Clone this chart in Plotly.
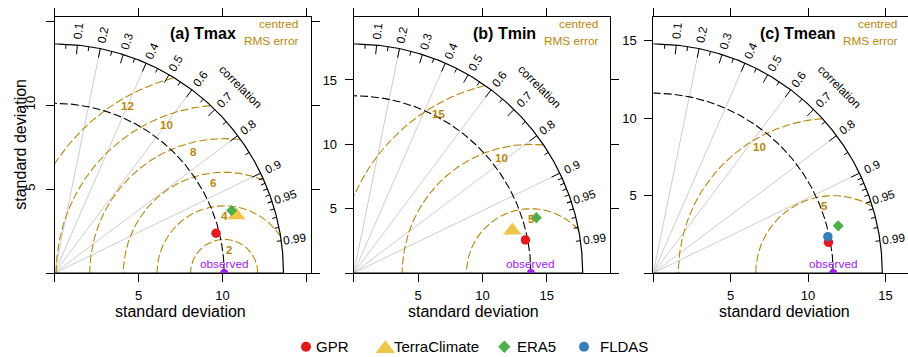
import numpy as np
import plotly.graph_objects as go

# ---------------- data ----------------
panel_titles = ["(a) Tmax", "(b) Tmin", "(c) Tmean"]
observed_sd = [10.10, 13.77, 11.62]

model_names = ["GPR", "TerraClimate", "ERA5", "FLDAS"]
gpr_sd = [9.90, 13.59, 11.49]
gpr_corr = [0.971, 0.982, 0.985]
terraclimate_sd = [11.36, 12.76, None]
terraclimate_corr = [0.953, 0.966, None]
era5_sd = [11.18, 14.83, 12.33]
era5_corr = [0.943, 0.957, 0.969]
fldas_sd = [None, None, 11.52]
fldas_corr = [None, None, 0.979]

rms_levels = [[2, 4, 6, 8, 10, 12], [5, 10, 15], [5, 10]]
corr_grid = [0.2, 0.4, 0.6, 0.8, 0.9]
corr_labels = [0.1, 0.2, 0.3, 0.4, 0.5, 0.6, 0.7, 0.8, 0.9, 0.95, 0.99]
axis_ticks = [0, 5, 10, 15]
axis_ticktext = [["", "5", "10", ""], ["", "5", "10", "15"], ["", "5", "10", "15"]]

sd_by_model = {"GPR": gpr_sd, "TerraClimate": terraclimate_sd, "ERA5": era5_sd, "FLDAS": fldas_sd}
corr_by_model = {"GPR": gpr_corr, "TerraClimate": terraclimate_corr, "ERA5": era5_corr, "FLDAS": fldas_corr}

# ---------------- styles ----------------
FONT = "Liberation Sans, Arial, sans-serif"
RMS_COL = "#B8860B"
GRID_COL = "#CDCDCD"
OBS_COL = "#A020F0"
SMALL = 11.8
colors = {"GPR": "#E41A1C", "TerraClimate": "#F0C64A", "ERA5": "#4DAF4A", "FLDAS": "#377EB8"}
symbols = {"GPR": "circle", "TerraClimate": "triangle-up", "ERA5": "diamond", "FLDAS": "circle"}
sizes = {"GPR": 9.5, "TerraClimate": 16, "ERA5": 8.5, "FLDAS": 9.5}
legend_sizes = {"GPR": 10, "TerraClimate": 17, "ERA5": 9.5, "FLDAS": 10}

W, H = 908, 357
PANEL_LEFT = [54.5, 353.7, 653.3]
PANEL_SIZE = 256.5
PANEL_TOP = 16.5
PANEL_BOTTOM = PANEL_TOP + PANEL_SIZE
RANGE_FACTOR = 1.12
TITLE_RIGHT = [238.3, 538.3, 838.3]
XTITLE_CENTER = [180.5, 474.0, 784.0]
XTITLE_Y = 311
LEGEND_Y = 346.7
LEGEND_MARK_X = [306, 385.3, 504.3, 584]
LEGEND_TEXT_X = [314, 391.5, 514.5, 597.5]


def paper_x(px):
    return px / W


def paper_y(py):
    return 1 - py / H


def seg_lists(segs):
    xs, ys = [], []
    for (x0, y0, x1, y1) in segs:
        xs += [x0, x1, None]
        ys += [y0, y1, None]
    return xs, ys


fig = go.Figure()
annotations = []
axes = {}

for i in range(3):
    sfx = "" if i == 0 else str(i + 1)
    xa, ya = "x" + sfx, "y" + sfx
    sd_r = observed_sd[i]
    sds = [sd_by_model[m][i] for m in model_names if sd_by_model[m][i] is not None]
    maxsd = 1.2 * max(sds)
    lim = RANGE_FACTOR * maxsd
    scale = PANEL_SIZE / lim
    left = PANEL_LEFT[i]
    right = min(left + PANEL_SIZE, W)
    xr = (right - left) / scale

    common = dict(showgrid=False, zeroline=False, showline=True, linecolor="black", linewidth=1,
                  ticks="outside", ticklen=8, tickwidth=1, tickcolor="black",
                  tickmode="array", tickvals=axis_ticks, ticktext=axis_ticktext[i],
                  tickfont=dict(family=FONT, size=13, color="black"), fixedrange=True)
    axes["xaxis" + sfx] = dict(common, domain=[paper_x(left), paper_x(right)], range=[0, xr],
                               anchor=ya, mirror="ticks", ticklabelstandoff=2)
    ydict = dict(common, domain=[paper_y(PANEL_BOTTOM), paper_y(PANEL_TOP)], range=[0, lim],
                 anchor=xa, mirror=("ticks" if i < 2 else False), ticklabelstandoff=5)
    if i == 0:
        ydict["tickangle"] = -90
    axes["yaxis" + sfx] = ydict

    # grey correlation lines
    gx, gy = seg_lists([(0, 0, maxsd * c, maxsd * np.sqrt(1 - c * c)) for c in corr_grid])
    fig.add_trace(go.Scatter(x=gx, y=gy, xaxis=xa, yaxis=ya, mode="lines",
                             line=dict(color=GRID_COL, width=1), hoverinfo="skip", showlegend=False))

    # centred RMS error arcs
    theta = np.linspace(0, np.pi, 700)
    rx, ry = [], []
    for g in rms_levels[i]:
        xc = sd_r + g * np.cos(theta)
        yc = g * np.sin(theta)
        keep = (xc >= 0) & (xc ** 2 + yc ** 2 <= maxsd ** 2)
        rx += list(xc[keep]) + [None]
        ry += list(yc[keep]) + [None]
    fig.add_trace(go.Scatter(x=rx, y=ry, xaxis=xa, yaxis=ya, mode="lines",
                             line=dict(color=RMS_COL, width=1.1, dash="8px,3px"),
                             hoverinfo="skip", showlegend=False))
    lp = np.linspace(45, 70, len(rms_levels[i]) + 1).astype(int)
    for k, g in enumerate(rms_levels[i]):
        ang = (lp[k + 1] - 1) * 0.03
        annotations.append(dict(x=sd_r + g * np.cos(ang), y=g * np.sin(ang), xref=xa, yref=ya,
                                text="<b>%d</b>" % g, showarrow=False, yanchor="middle", yshift=-10,
                                font=dict(family=FONT, size=11.5, color=RMS_COL)))

    # observed sd arc
    t2 = np.linspace(0, np.pi / 2, 300)
    fig.add_trace(go.Scatter(x=sd_r * np.cos(t2), y=sd_r * np.sin(t2), xaxis=xa, yaxis=ya, mode="lines",
                             line=dict(color="black", width=1.1, dash="8px,3px"),
                             hoverinfo="skip", showlegend=False))

    # outer arc and baseline
    ox = list(maxsd * np.cos(t2)) + [None, 0, maxsd]
    oy = list(maxsd * np.sin(t2)) + [None, 0, 0]
    fig.add_trace(go.Scatter(x=ox, y=oy, xaxis=xa, yaxis=ya, mode="lines",
                             line=dict(color="black", width=1.2), hoverinfo="skip", showlegend=False))

    # correlation ticks
    big = np.arccos(np.arange(1, 10) / 10)
    med = np.arccos(np.arange(0.05, 0.96, 0.1))
    sml = np.arccos(np.arange(0.91, 0.995, 0.01))
    segs = [(maxsd * np.cos(a), maxsd * np.sin(a), 0.96 * maxsd * np.cos(a), 0.96 * maxsd * np.sin(a)) for a in big]
    segs += [(maxsd * np.cos(a), maxsd * np.sin(a), 0.98 * maxsd * np.cos(a), 0.98 * maxsd * np.sin(a)) for a in np.concatenate([med, sml])]
    tx, ty = seg_lists(segs)
    fig.add_trace(go.Scatter(x=tx, y=ty, xaxis=xa, yaxis=ya, mode="lines",
                             line=dict(color="black", width=1), hoverinfo="skip", showlegend=False))

    # correlation labels
    for c in corr_labels:
        a = np.arccos(c)
        annotations.append(dict(x=1.06 * maxsd * np.cos(a), y=1.06 * maxsd * np.sin(a), xref=xa, yref=ya,
                                text=("%g" % c), showarrow=False, textangle=-np.degrees(a),
                                xanchor="center", yanchor="middle",
                                font=dict(family=FONT, size=SMALL, color="black")))
    annotations.append(dict(x=1.15 * maxsd * np.cos(np.pi / 4), y=1.15 * maxsd * np.sin(np.pi / 4),
                            xref=xa, yref=ya, text="correlation", showarrow=False, textangle=45,
                            xanchor="center", yanchor="middle",
                            font=dict(family=FONT, size=SMALL, color="black")))

    # centred RMS error key
    for txt, dy in (("centred", 8.3), ("RMS error", -8.3)):
        annotations.append(dict(x=1.1 * maxsd, y=1.05 * maxsd, xref=xa, yref=ya, text=txt,
                                showarrow=False, xanchor="right", yanchor="middle", xshift=-6, yshift=dy,
                                font=dict(family=FONT, size=SMALL, color=RMS_COL)))

    # model points
    for m in model_names:
        sd = sd_by_model[m][i]
        cr = corr_by_model[m][i]
        if sd is None:
            continue
        fig.add_trace(go.Scatter(x=[sd * cr], y=[sd * np.sqrt(1 - cr * cr)], xaxis=xa, yaxis=ya,
                                 mode="markers", name=m, showlegend=False,
                                 marker=dict(color=colors[m], symbol=symbols[m], size=sizes[m],
                                             line=dict(width=0))))

    # observed point
    fig.add_trace(go.Scatter(x=[sd_r], y=[0], xaxis=xa, yaxis=ya, mode="markers", showlegend=False,
                             marker=dict(color=OBS_COL, size=8, line=dict(width=0)), cliponaxis=True))
    annotations.append(dict(x=sd_r, y=0.04 * maxsd, xref=xa, yref=ya, text="observed", showarrow=False,
                            xanchor="center", yanchor="middle",
                            font=dict(family=FONT, size=SMALL, color=OBS_COL)))

    # panel title
    annotations.append(dict(x=paper_x(TITLE_RIGHT[i]), y=paper_y(33), xref="paper", yref="paper",
                            text="<b>%s</b>" % panel_titles[i], showarrow=False, xanchor="right",
                            yanchor="middle", font=dict(family=FONT, size=16, color="black")))
    # x title
    annotations.append(dict(x=paper_x(XTITLE_CENTER[i]), y=paper_y(XTITLE_Y), xref="paper", yref="paper",
                            text="standard deviation", showarrow=False, xanchor="center", yanchor="middle",
                            font=dict(family=FONT, size=16, color="black")))

# y title (first panel only)
annotations.append(dict(x=paper_x(21), y=paper_y((PANEL_TOP + PANEL_BOTTOM) / 2), xref="paper", yref="paper",
                        text="standard deviation", showarrow=False, textangle=-90,
                        xanchor="center", yanchor="middle", font=dict(family=FONT, size=16, color="black")))

# legend (drawn on a pixel-scaled overlay axis)
axes["xaxis4"] = dict(domain=[0, 1], range=[0, W], visible=False, anchor="y4", fixedrange=True)
axes["yaxis4"] = dict(domain=[0, 1], range=[H, 0], visible=False, anchor="x4", fixedrange=True)
for k, m in enumerate(model_names):
    mx = LEGEND_MARK_X[k]
    fig.add_trace(go.Scatter(x=[mx], y=[LEGEND_Y + (2 if symbols[m] == "triangle-up" else 0)],
                             xaxis="x4", yaxis="y4", mode="markers", showlegend=False, hoverinfo="skip",
                             marker=dict(color=colors[m], symbol=symbols[m], size=legend_sizes[m],
                                         line=dict(width=0))))
    annotations.append(dict(x=paper_x(LEGEND_TEXT_X[k]), y=paper_y(LEGEND_Y), xref="paper", yref="paper",
                            text=m, showarrow=False, xanchor="left", yanchor="middle",
                            font=dict(family=FONT, size=15, color="black")))

fig.update_layout(width=W, height=H, margin=dict(l=0, r=0, t=0, b=0),
                  paper_bgcolor="white", plot_bgcolor="rgba(0,0,0,0)",
                  annotations=annotations, showlegend=False,
                  font=dict(family=FONT), **axes)

fig.write_html("out.html", config={"displayModeBar": False},
               post_script="document.body.style.margin='0px';document.body.style.overflow='hidden';")
